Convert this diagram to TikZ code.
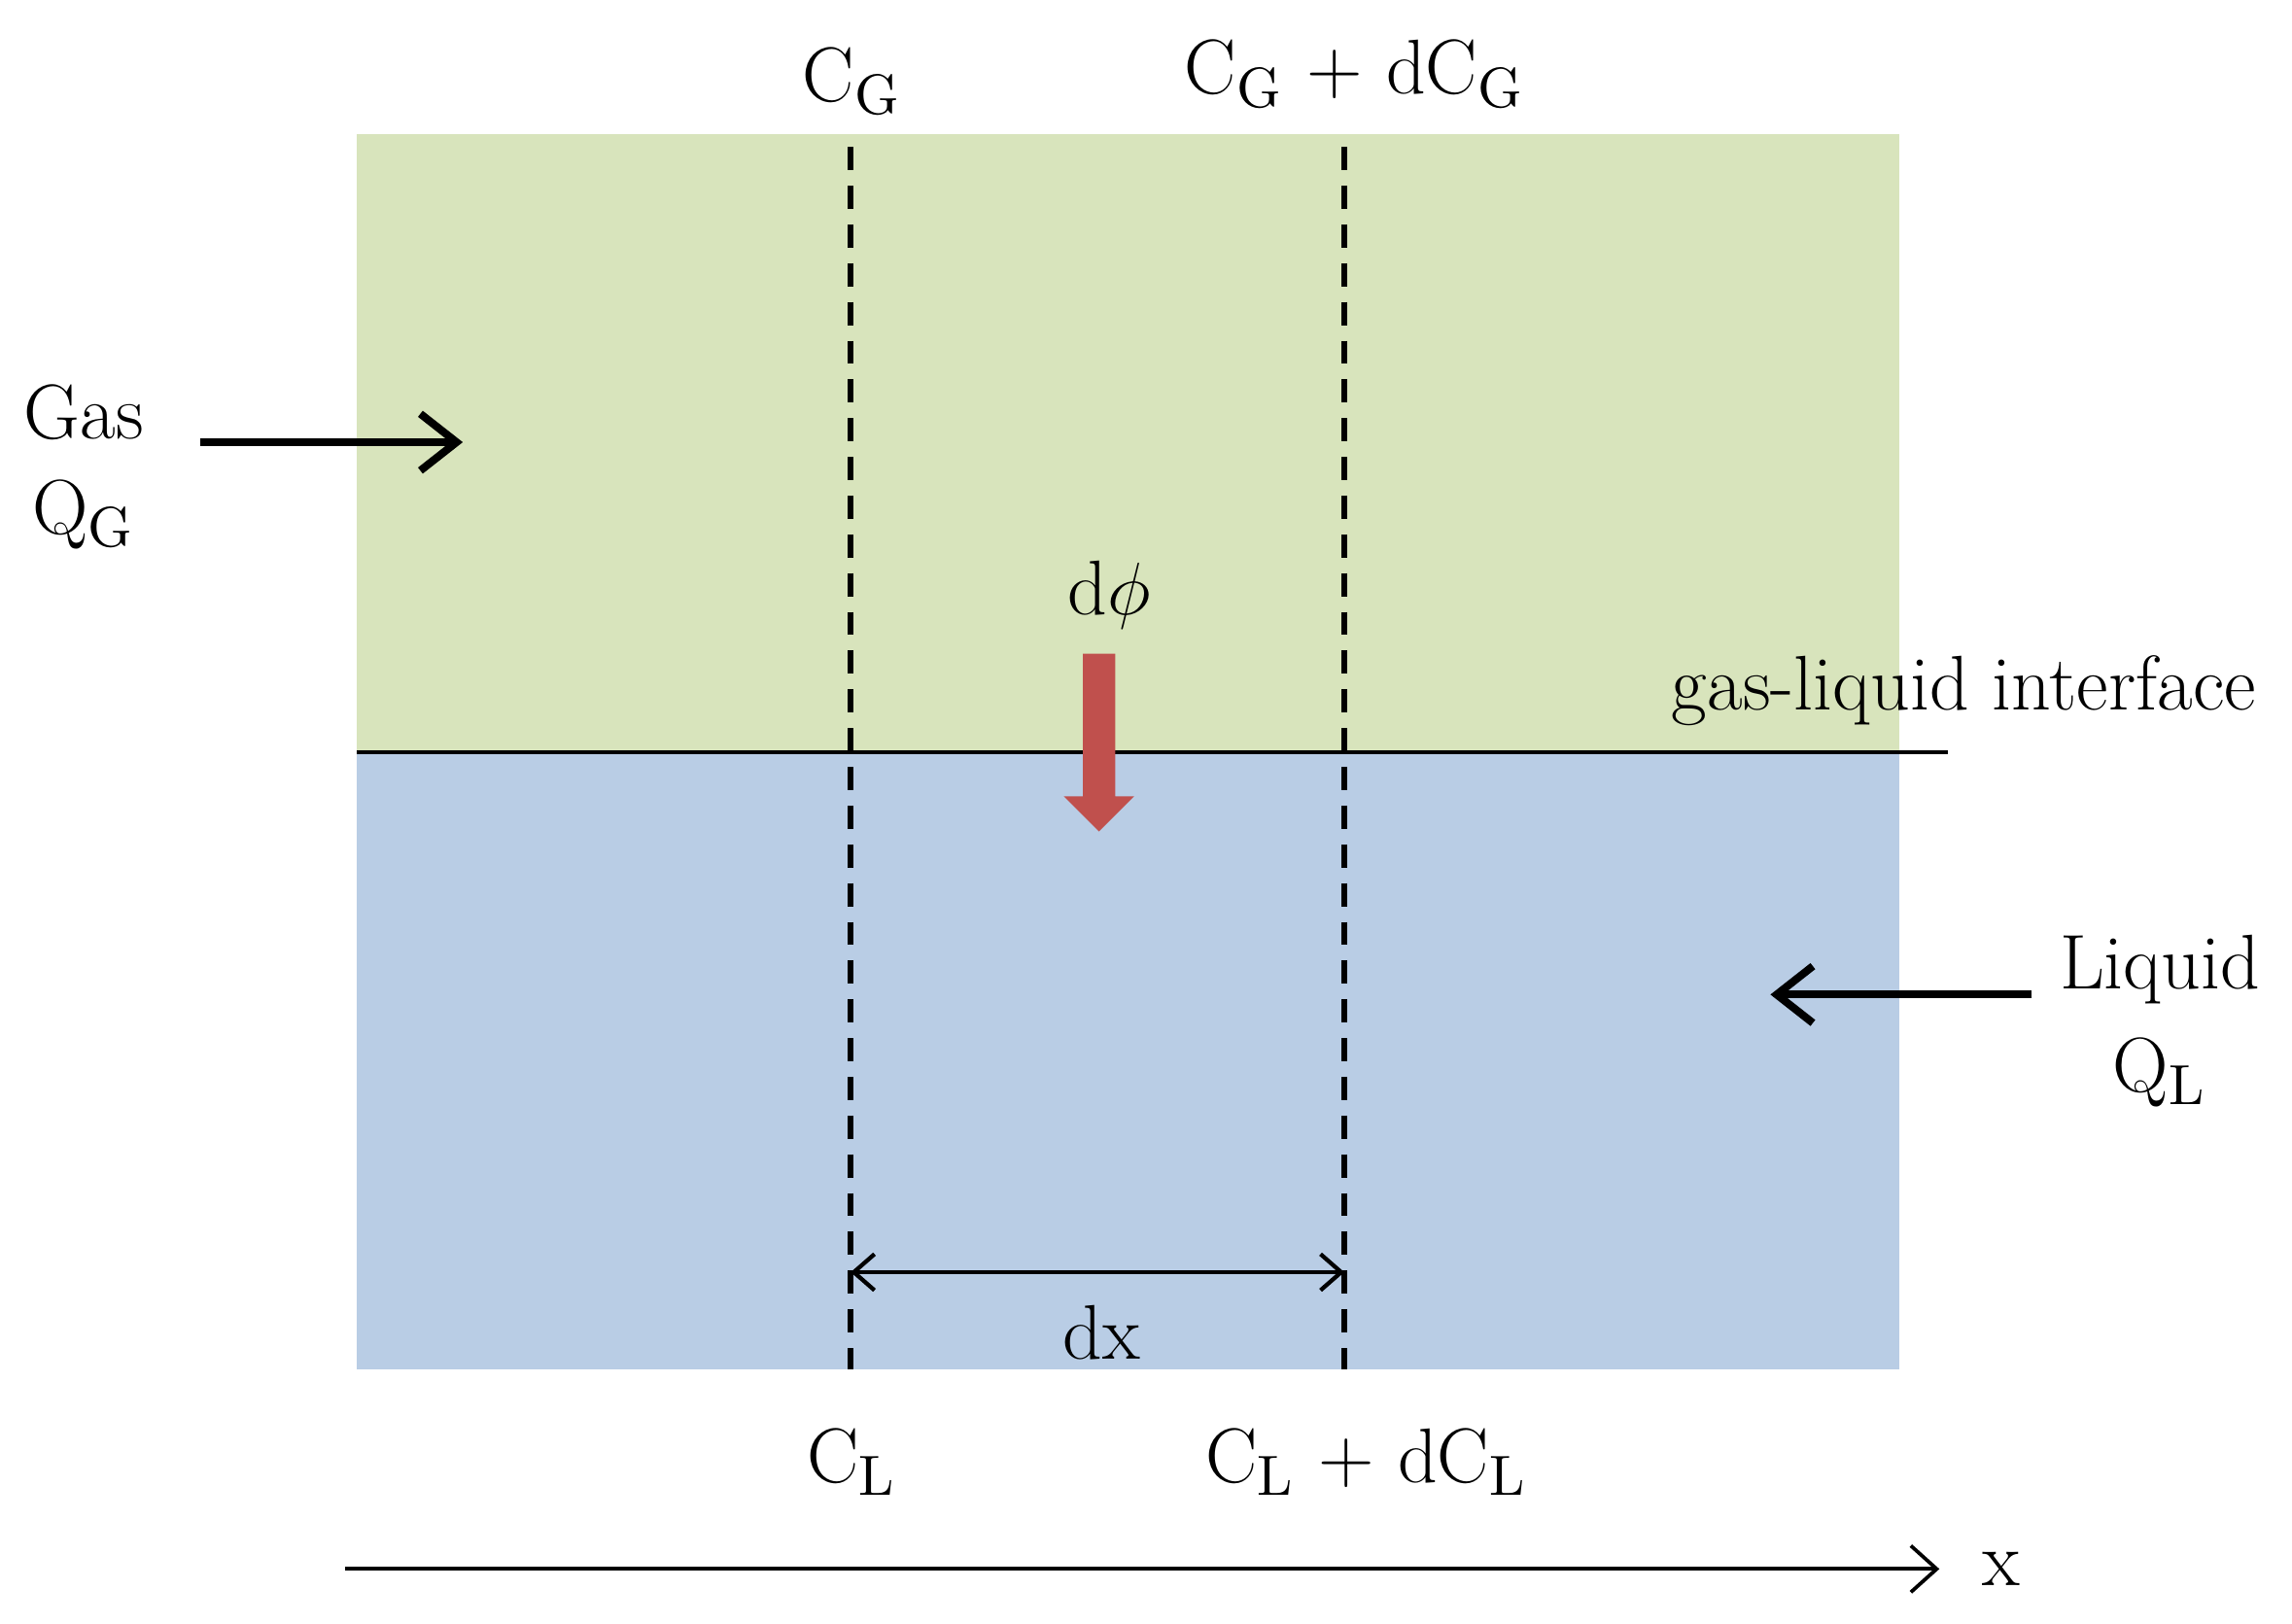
\documentclass[tikz,border=0pt]{standalone}
\usetikzlibrary{arrows.meta}
\begin{document}
\begin{tikzpicture}[x=0.01cm,y=-0.01cm,
  lab/.style={font=\fontsize{15}{17}\selectfont, inner sep=0pt},
  dashline/.style={line width=1.1pt, dash pattern=on 4.5pt off 3pt},
  bigarrow/.style={line width=1.5pt, -{Straight Barb[length=7pt,width=11pt,line width=1.5pt]}}]
\definecolor{gasg}{HTML}{D8E4BC}
\definecolor{liqb}{HTML}{B9CDE5}
\definecolor{redar}{HTML}{C0504D}
\useasboundingbox (0,0) rectangle (1560,1105);
\fill[gasg] (243,91) rectangle (1293,512);
\fill[liqb] (243,512) rectangle (1293,932);
\coordinate (il) at (243,512); \coordinate (ir) at (1326,512);
\draw[line width=0.6pt] (il) -- (ir);
\coordinate (d1t) at (579,100); \coordinate (d1b) at (579,932);
\coordinate (d2t) at (915,100); \coordinate (d2b) at (915,932);
\draw[dashline] (d1t) -- (d1b);
\draw[dashline] (d2t) -- (d2b);
\node[lab] (cg) at (580,55) {C$_\mathrm{G}$};
\node[lab] (cgd) at (922,50) {C$_\mathrm{G}$ + dC$_\mathrm{G}$};
\node[lab] (gas) at (57,281) {Gas};
\node[lab] (qg) at (57,350) {Q$_\mathrm{G}$};
\coordinate (ga1) at (136,301); \coordinate (ga2) at (315,301);
\draw[bigarrow] (ga1) -- (ga2);
\node[lab] (dphi) at (755,405) {d$\phi$};
\fill[redar] (737,445) -- (759,445) -- (759,542) -- (772,542) -- (748,566) -- (724,542) -- (737,542) -- cycle;
\node[lab, anchor=east] (gli) at (1536,470) {gas-liquid interface};
\node[lab] (liq) at (1470,660) {Liquid};
\node[lab] (ql) at (1470,730) {Q$_\mathrm{L}$};
\coordinate (la1) at (1383,677); \coordinate (la2) at (1205,677);
\draw[bigarrow] (la1) -- (la2);
\coordinate (dxa) at (579,866); \coordinate (dxb) at (915,866);
\draw[line width=0.8pt,{Straight Barb[length=4pt,width=7pt]}-{Straight Barb[length=4pt,width=7pt]}] (dxa) -- (dxb);
\node[lab] (dx) at (750,907) {dx};
\node[lab] (cl) at (580,995) {C$_\mathrm{L}$};
\node[lab] (cld) at (930,995) {C$_\mathrm{L}$ + dC$_\mathrm{L}$};
\coordinate (xa) at (235,1068); \coordinate (xb) at (1320,1068);
\draw[line width=0.7pt,-{Straight Barb[length=5pt,width=9pt]}] (xa) -- (xb);
\node[lab] (xl) at (1362,1068) {x};
\end{tikzpicture}
\end{document}
